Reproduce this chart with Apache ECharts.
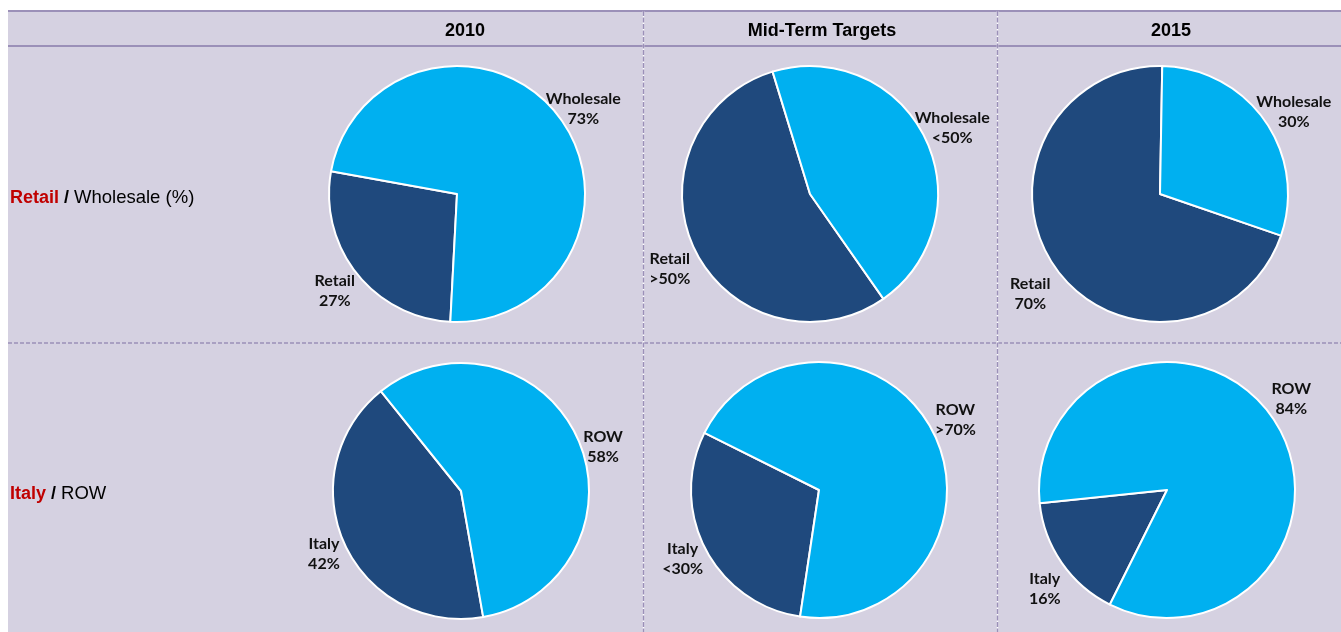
<!DOCTYPE html>
<html>
<head>
<meta charset="utf-8">
<script src="https://cdn.jsdelivr.net/npm/echarts@6/dist/echarts.min.js"></script>
<style>
  html, body { margin: 0; padding: 0; background: #fff; }
  #chart { width: 1341px; height: 632px; }
</style>
</head>
<body>
<div id="chart"></div>
<script>
// column headers and row titles
const columns = ['2010', 'Mid-Term Targets', '2015'];
const rowsTop = ['Retail', 'Wholesale (%)'];
const rowsBottom = ['Italy', 'ROW'];

// shares (%), first item = dark slice
const channelNames = ['Retail', 'Wholesale'];
const channel2010 = [27, 73];
const channelMid = [55, 45];
const channel2015 = [70, 30];
const channelLabels = [['27%', '73%'], ['>50%', '<50%'], ['70%', '30%']];

const regionNames = ['Italy', 'ROW'];
const region2010 = [42, 58];
const regionMid = [30, 70];
const region2015 = [16, 84];
const regionLabels = [['42%', '58%'], ['<30%', '>70%'], ['16%', '84%']];

const darkBlue = '#1f497d';
const lightBlue = '#00b0f0';
const lineCol = '#9b90b8';

// nudge: small label shifts, excel does not put labels exactly on the slice middle
const pies = [
  { names: channelNames, values: channel2010, labels: channelLabels[0], center: [457, 194], start: 267, nudge: [[0, 0], [4, 12]] },
  { names: channelNames, values: channelMid, labels: channelLabels[1], center: [810, 194], start: 305, nudge: [[0, 6], [2, 2]] },
  { names: channelNames, values: channel2015, labels: channelLabels[2], center: [1160, 194], start: 341, nudge: [[-2, 10], [6, 7]] },
  { names: regionNames, values: region2010, labels: regionLabels[0], center: [461, 491], start: 280, nudge: [[5, -2], [0, 20]] },
  { names: regionNames, values: regionMid, labels: regionLabels[1], center: [819, 490], start: 261.5, nudge: [[2, -3], [-2, 2]] },
  { names: regionNames, values: region2015, labels: regionLabels[2], center: [1167, 490], start: 243.5, nudge: [[6, 10], [-4, -2]] }
];

const series = [];
pies.forEach(function (p) {
  const data = p.names.map(function (n, i) {
    return { name: n, value: p.values[i], pct: p.labels[i] };
  });
  const labelData = data.map(function (d, i) {
    return Object.assign({ label: { offset: p.nudge[i] } }, d);
  });
  series.push({
    type: 'pie',
    center: p.center,
    radius: [0, 128],
    startAngle: p.start,
    clockwise: true,
    silent: true,
    avoidLabelOverlap: false,
    color: [darkBlue, lightBlue],
    itemStyle: { borderColor: '#fff', borderWidth: 2 },
    label: { show: false },
    labelLine: { show: false },
    data: data
  });
  // transparent ring that only carries the labels just outside the pie
  series.push({
    type: 'pie',
    center: p.center,
    radius: [130, 176],
    startAngle: p.start,
    clockwise: true,
    silent: true,
    avoidLabelOverlap: false,
    itemStyle: { color: 'transparent' },
    label: {
      show: true,
      position: 'inside',
      formatter: function (d) { return d.name + '\n' + d.data.pct; },
      fontFamily: 'Lato',
      fontWeight: 'bold',
      fontSize: 16,
      lineHeight: 20,
      color: '#111',
      align: 'center'
    },
    labelLine: { show: false },
    data: labelData
  });
});

const headStyle = { fontFamily: 'Liberation Sans', fontWeight: 'bold', fontSize: 18, fill: '#000',
  align: 'center', verticalAlign: 'middle' };
const rowRich = {
  r: { fontFamily: 'Liberation Sans', fontWeight: 'bold', fontSize: 18, fill: '#c00000' },
  b: { fontFamily: 'Liberation Sans', fontWeight: 'bold', fontSize: 18, fill: '#000' }
};

const chart = echarts.init(document.getElementById('chart'), null, { renderer: 'canvas' });
chart.setOption({
  backgroundColor: '#fff',
  animation: false,
  graphic: [
    { type: 'rect', z: -10, shape: { x: 8, y: 10, width: 1333, height: 622 }, style: { fill: '#d5d1e1' } },
    { type: 'line', shape: { x1: 8, y1: 11, x2: 1341, y2: 11 }, style: { stroke: lineCol, lineWidth: 2 } },
    { type: 'line', shape: { x1: 8, y1: 46, x2: 1341, y2: 46 }, style: { stroke: lineCol, lineWidth: 2 } },
    { type: 'line', shape: { x1: 8, y1: 343, x2: 1341, y2: 343 }, style: { stroke: lineCol, lineWidth: 1.5, lineDash: [4, 2] } },
    { type: 'line', shape: { x1: 643.5, y1: 11, x2: 643.5, y2: 632 }, style: { stroke: '#fff', lineWidth: 1.5 } },
    { type: 'line', shape: { x1: 643.5, y1: 11, x2: 643.5, y2: 632 }, style: { stroke: lineCol, lineWidth: 1.5, lineDash: [5, 1.5] } },
    { type: 'line', shape: { x1: 997.5, y1: 11, x2: 997.5, y2: 632 }, style: { stroke: '#fff', lineWidth: 1.5 } },
    { type: 'line', shape: { x1: 997.5, y1: 11, x2: 997.5, y2: 632 }, style: { stroke: lineCol, lineWidth: 1.5, lineDash: [5, 1.5] } },
    { type: 'text', x: 465, y: 31, style: Object.assign({ text: columns[0] }, headStyle) },
    { type: 'text', x: 822, y: 31, style: Object.assign({ text: columns[1] }, headStyle) },
    { type: 'text', x: 1171, y: 31, style: Object.assign({ text: columns[2] }, headStyle) },
    { type: 'text', x: 10, y: 198, style: {
        text: '{r|' + rowsTop[0] + '}{b| / }' + rowsTop[1],
        verticalAlign: 'middle', fontFamily: 'Liberation Sans', fontSize: 18.5, fill: '#000', rich: rowRich } },
    { type: 'text', x: 10, y: 494, style: {
        text: '{r|' + rowsBottom[0] + '}{b| / }' + rowsBottom[1],
        verticalAlign: 'middle', fontFamily: 'Liberation Sans', fontSize: 18.5, fill: '#000', rich: rowRich } }
  ],
  series: series
});
</script>
</body>
</html>
